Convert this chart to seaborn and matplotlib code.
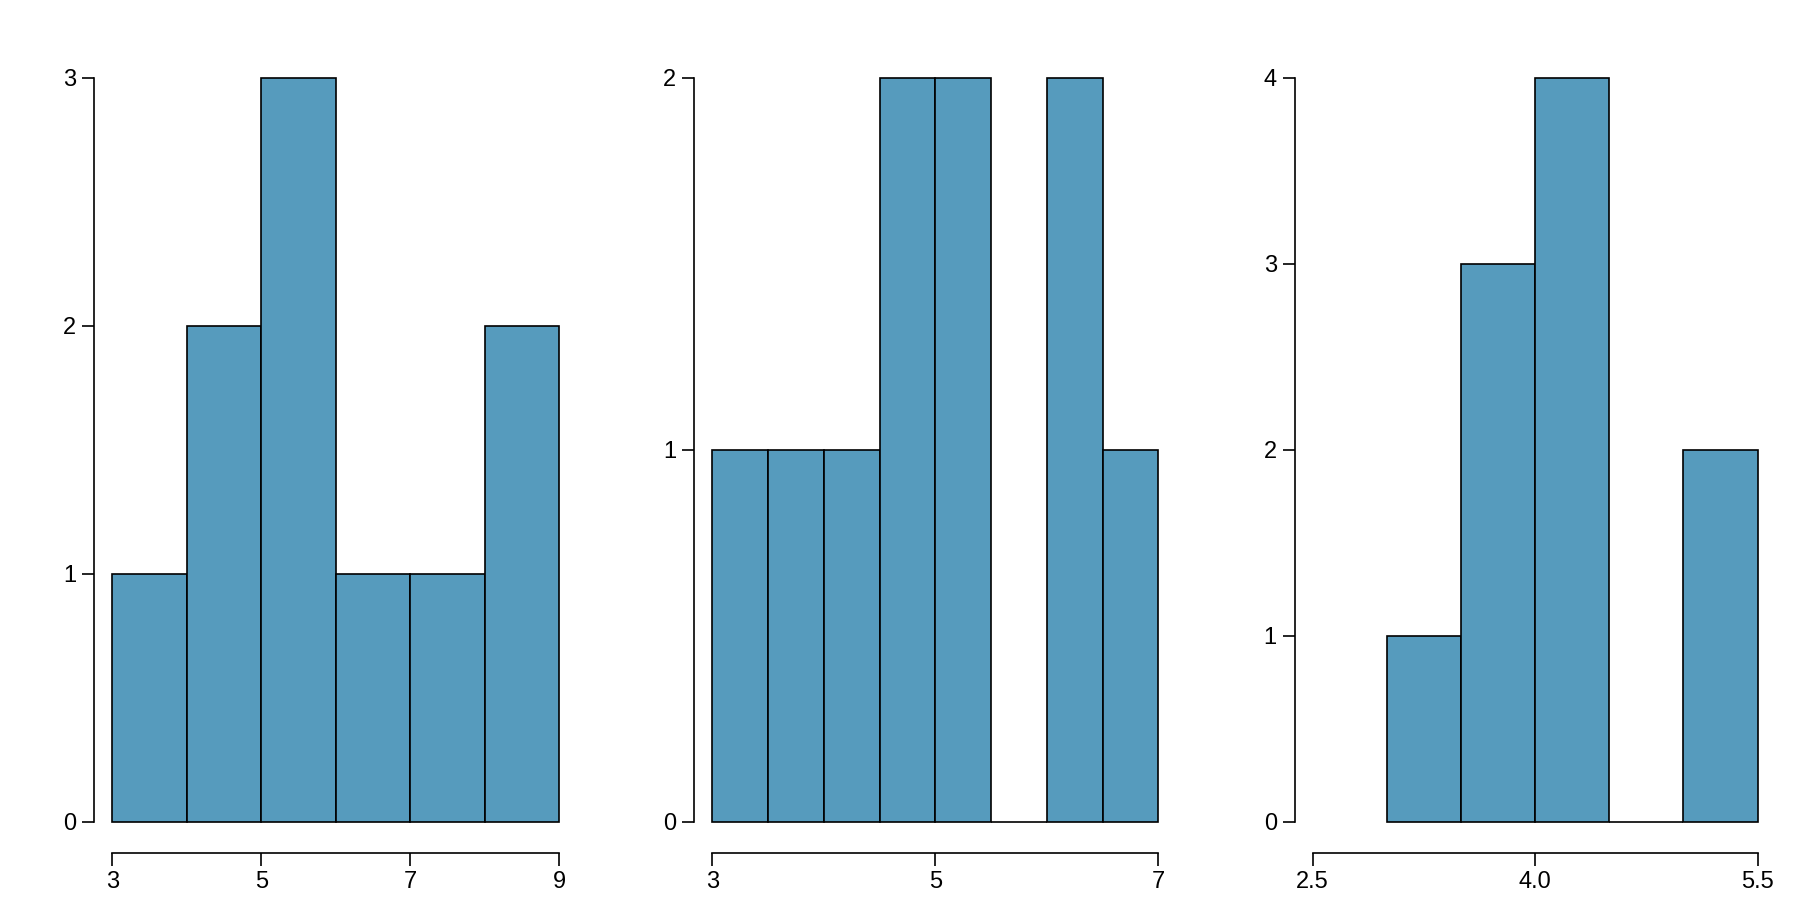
import seaborn as sns
import matplotlib.pyplot as plt
import pandas as pd

# bin edges and counts
edges_a = [3, 4, 5, 6, 7, 8, 9]
counts_a = [1, 2, 3, 1, 1, 2]
xticks_a = [3, 5, 7, 9]

edges_b = [3, 3.5, 4, 4.5, 5, 5.5, 6, 6.5, 7]
counts_b = [1, 1, 1, 2, 2, 0, 2, 1]
xticks_b = [3, 5, 7]

edges_c = [3, 3.5, 4, 4.5, 5, 5.5]
counts_c = [1, 3, 4, 0, 2]
xticks_c = [2.5, 4.0, 5.5]
xlabels_c = ["2.5", "4.0", "5.5"]

sns.set_style("white")
plt.rcParams['font.family'] = ['Liberation Sans', 'DejaVu Sans']

fill = "#569BBD"
W, H = 1800, 900

fig = plt.figure(figsize=(18, 9), dpi=100)

# (edges, counts, xticks, xlabels, first tick px, last tick px)
panels = [
    (edges_a, counts_a, xticks_a, [str(t) for t in xticks_a], 112.3, 559),
    (edges_b, counts_b, xticks_b, [str(t) for t in xticks_b], 712.3, 1158.3),
    (edges_c, counts_c, xticks_c, xlabels_c, 1312.7, 1757.6),
]

y_top, y_zero = 77.7, 822

for edges, counts, xt, xl, p0, p1 in panels:
    span = xt[-1] - xt[0]
    scale = (p1 - p0) / span
    lo = xt[0] - 0.04 * span
    hi = xt[-1] + 0.04 * span
    left = (p0 - 0.04 * span * scale) / W
    width = (hi - lo) * scale / W
    bottom = 1 - y_zero / H
    height = (y_zero - y_top) / H
    ax = fig.add_axes([left, bottom, width, height])

    mids = [(a + b) / 2 for a, b in zip(edges[:-1], edges[1:])]
    df = pd.DataFrame({'x': mids, 'n': counts})
    sns.histplot(data=df, x='x', weights='n', bins=edges, ax=ax,
                 color=fill, alpha=1, edgecolor='black', linewidth=1.2)

    ymax = max(counts)
    ax.set_xlim(lo, hi)
    ax.set_ylim(0, ymax)
    ax.set_xlabel("")
    ax.set_ylabel("")
    ax.set_xticks(xt)
    ax.set_xticklabels(xl)
    ax.set_yticks(range(ymax + 1))

    for s in ['top', 'right']:
        ax.spines[s].set_visible(False)
    ax.spines['left'].set_bounds(0, ymax)
    ax.spines['bottom'].set_position(('outward', 22.1))
    ax.spines['bottom'].set_bounds(xt[0], xt[-1])
    for s in ['left', 'bottom']:
        ax.spines[s].set_color('black')
        ax.spines[s].set_linewidth(1.2)
    ax.tick_params(axis='both', direction='out', length=9, width=1.2,
                   color='black', labelsize=17, pad=4,
                   left=True, bottom=True, labelcolor='black')
    ax.patch.set_alpha(0)
    for p in ax.patches:
        p.set_clip_on(False)

fig.savefig("out.png", dpi=100)
